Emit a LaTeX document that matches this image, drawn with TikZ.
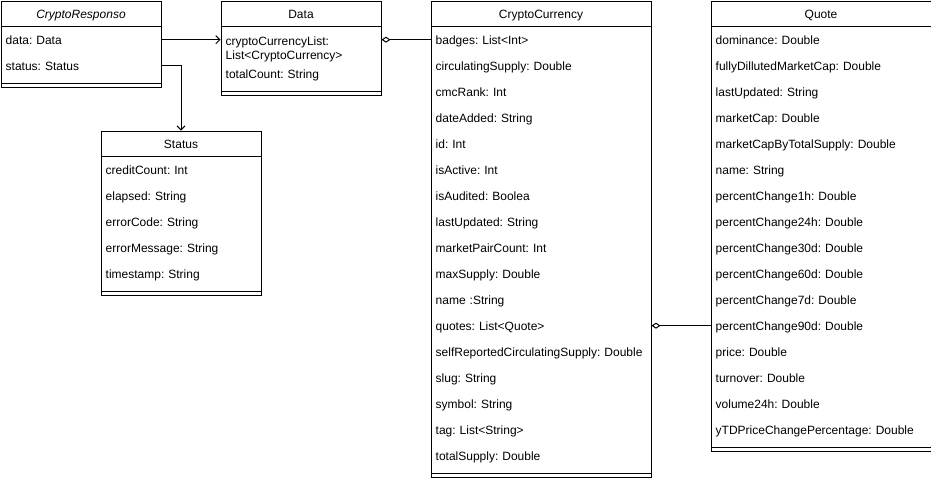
\documentclass[tikz,border=0pt]{standalone}
\usepackage{fontspec}
\setmainfont{Liberation Sans}
\usetikzlibrary{arrows.meta}

\begin{document}
\frenchspacing
\begin{tikzpicture}[x=1pt,y=-1pt,font=\fontsize{12}{14}\selectfont,
    classbox/.style={draw,line width=1pt,anchor=north west,inner sep=0pt},
    attr/.style={anchor=north west,inner xsep=5pt,inner ysep=0pt,minimum height=26pt,text width=#1,align=left},
    oneline/.style={text height=11pt,text depth=1pt},
    boxline/.style={line width=1pt},
    assoc/.style={line width=1pt,-{Straight Barb[length=4pt,width=8pt]}},
    aggr/.style={line width=1pt,-{Diamond[open,length=9pt,width=6pt]}}]

    \useasboundingbox (0,0) rectangle (931,477);

    % CryptoResponso
    \node[classbox,minimum width=160pt,minimum height=86pt] (resp) at (0.5,0.5) {};
    \node[oneline] (resp-title) at ([yshift=-13pt]resp.north) {\textit{CryptoResponso}};
    \foreach \t [count=\i] in {data: Data,status: Status}
        \node[attr=150pt,oneline] (resp-\i) at (0.5,0.5+26*\i) {\t};
    \draw[boxline] (resp-1.north west) -- (resp-1.north east);
    \draw[boxline] ([yshift=4pt]resp.south west) -- ([yshift=4pt]resp.south east);

    % Data
    \node[classbox,minimum width=160pt,minimum height=94pt] (data) at (220.5,0.5) {};
    \node[oneline] (data-title) at ([yshift=-13pt]data.north) {Data};
    \node[attr=150pt,minimum height=40pt,yshift=-2.5pt] (data-1) at (220.5,26.5) {cryptoCurrencyList:\\List<CryptoCurrency>};
    \node[attr=150pt,oneline] (data-2) at (220.5,60.5) {totalCount: String};
    \draw[boxline] (data.north west) ++(0,26) -- ++(160,0);
    \draw[boxline] ([yshift=4pt]data.south west) -- ([yshift=4pt]data.south east);

    % Status
    \node[classbox,minimum width=160pt,minimum height=164pt] (status) at (100.5,130.5) {};
    \node[oneline] (status-title) at ([yshift=-13pt]status.north) {Status};
    \foreach \t [count=\i] in {creditCount: Int,elapsed: String,errorCode: String,
        errorMessage: String,timestamp: String}
        \node[attr=150pt,oneline] (status-\i) at (100.5,130.5+26*\i) {\t};
    \draw[boxline] (status-1.north west) -- (status-1.north east);
    \draw[boxline] ([yshift=4pt]status.south west) -- ([yshift=4pt]status.south east);

    % CryptoCurrency
    \node[classbox,minimum width=220pt,minimum height=476pt] (cc) at (430.5,0.5) {};
    \node[oneline] (cc-title) at ([yshift=-13pt]cc.north) {CryptoCurrency};
    \foreach \t [count=\i] in {badges: List<Int>,circulatingSupply: Double,cmcRank: Int,
        dateAdded: String,id: Int,isActive: Int,isAudited: Boolea,lastUpdated: String,
        marketPairCount: Int,maxSupply: Double,name :String,quotes: List<Quote>,
        selfReportedCirculatingSupply: Double,slug: String,symbol: String,
        tag: List<String>,totalSupply: Double}
        \node[attr=210pt,oneline] (cc-\i) at (430.5,0.5+26*\i) {\t};
    \draw[boxline] (cc-1.north west) -- (cc-1.north east);
    \draw[boxline] ([yshift=4pt]cc.south west) -- ([yshift=4pt]cc.south east);

    % Quote
    \node[classbox,minimum width=220pt,minimum height=450pt] (quote) at (710.5,0.5) {};
    \node[oneline] (quote-title) at ([yshift=-13pt]quote.north) {Quote};
    \foreach \t [count=\i] in {dominance: Double,fullyDillutedMarketCap: Double,
        lastUpdated: String,marketCap: Double,marketCapByTotalSupply: Double,
        name: String,percentChange1h: Double,percentChange24h: Double,
        percentChange30d: Double,percentChange60d: Double,percentChange7d: Double,
        percentChange90d: Double,price: Double,turnover: Double,volume24h: Double,
        yTDPriceChangePercentage: Double}
        \node[attr=210pt,oneline] (quote-\i) at (710.5,0.5+26*\i) {\t};
    \draw[boxline] (quote-1.north west) -- (quote-1.north east);
    \draw[boxline] ([yshift=4pt]quote.south west) -- ([yshift=4pt]quote.south east);

    \draw[assoc] (resp-1.east) -- (resp-1.east -| data.west);
    \draw[assoc] (resp-2.east) -| (status.north);
    \draw[aggr] (cc-1.west) -- (cc-1.west -| data.east);
    \draw[aggr] (quote-12.west) -- (quote-12.west -| cc.east);

\end{tikzpicture}
\end{document}
